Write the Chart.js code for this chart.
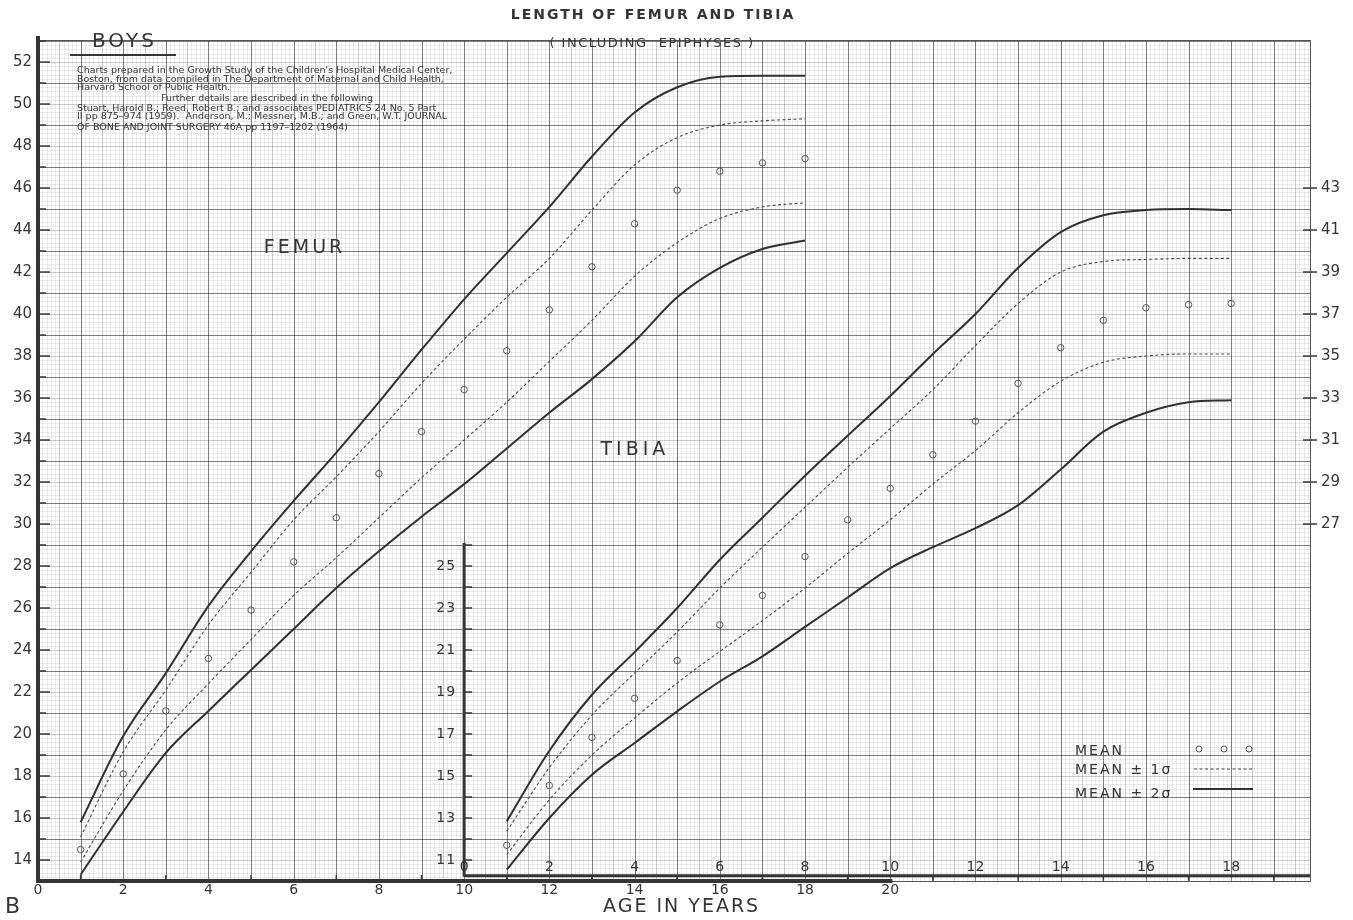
<!DOCTYPE html>
<html>
<head>
<meta charset="utf-8">
<title>Length of Femur and Tibia - Boys</title>
<script src="https://cdn.jsdelivr.net/npm/chart.js@4.4.1/dist/chart.umd.min.js"></script>
<style>
    html, body { margin: 0; padding: 0; background: #fff; }
    #wrap { width: 1353px; height: 920px; position: relative; }
</style>
</head>
<body>
<div id="wrap"><canvas id="growthChart"></canvas></div>
<script>
// Ages (years) at which the growth study values are given
const femurAges = [1, 2, 3, 4, 5, 6, 7, 8, 9, 10, 11, 12, 13, 14, 15, 16, 17, 18];
const tibiaAges = [1, 2, 3, 4, 5, 6, 7, 8, 9, 10, 11, 12, 13, 14, 15, 16, 17, 18];

// Femur length (cm)
const femurPlus2 = [15.8, 19.9, 22.9, 26.1, 28.7, 31.1, 33.4, 35.8, 38.3, 40.7, 42.9, 45.1, 47.5, 49.6, 50.8, 51.3, 51.35, 51.35];
const femurPlus1 = [15.1, 19.15, 22.1, 25.2, 27.7, 30.2, 32.25, 34.4, 36.7, 38.8, 40.8, 42.65, 44.95, 47.1, 48.4, 49.0, 49.2, 49.3];
const femurMean = [14.5, 18.1, 21.1, 23.6, 25.9, 28.2, 30.3, 32.4, 34.4, 36.4, 38.25, 40.2, 42.25, 44.3, 45.9, 46.8, 47.2, 47.4];
const femurMinus1 = [13.9, 17.3, 20.2, 22.4, 24.5, 26.6, 28.4, 30.3, 32.2, 34.0, 35.8, 37.75, 39.7, 41.8, 43.4, 44.55, 45.1, 45.3];
const femurMinus2 = [13.3, 16.3, 19.1, 21.1, 23.05, 25.0, 26.95, 28.7, 30.35, 31.9, 33.6, 35.3, 36.9, 38.7, 40.8, 42.2, 43.1, 43.5];

// Tibia length (cm)
const tibiaPlus2 = [12.84, 16.2, 18.87, 20.9, 23.0, 25.3, 27.3, 29.3, 31.2, 33.1, 35.1, 37.0, 39.2, 40.9, 41.7, 41.95, 42.0, 41.95];
const tibiaPlus1 = [12.37, 15.4, 17.9, 19.9, 21.86, 23.95, 25.9, 27.8, 29.7, 31.55, 33.4, 35.5, 37.5, 39.0, 39.5, 39.6, 39.65, 39.65];
const tibiaMean = [11.7, 14.55, 16.84, 18.7, 20.5, 22.2, 23.6, 25.45, 27.2, 28.7, 30.3, 31.9, 33.7, 35.4, 36.7, 37.3, 37.45, 37.5];
const tibiaMinus1 = [11.25, 13.87, 16.0, 17.76, 19.43, 20.93, 22.4, 23.95, 25.6, 27.2, 28.9, 30.5, 32.3, 33.8, 34.7, 35.0, 35.1, 35.1];
const tibiaMinus2 = [10.54, 13.0, 15.06, 16.57, 18.08, 19.5, 20.7, 22.1, 23.5, 24.9, 25.9, 26.8, 27.9, 29.6, 31.4, 32.3, 32.8, 32.9];

// Tick labels
const femurAgeTicks = [0, 2, 4, 6, 8, 10, 12, 14, 16, 18, 20];
const femurLengthTicks = [14, 16, 18, 20, 22, 24, 26, 28, 30, 32, 34, 36, 38, 40, 42, 44, 46, 48, 50, 52];
const tibiaAgeTicks = [0, 2, 4, 6, 8, 10, 12, 14, 16, 18];
const tibiaInsetTicks = [11, 13, 15, 17, 19, 21, 23, 25];
const tibiaRightTicks = [27, 29, 31, 33, 35, 37, 39, 41, 43];

const noteLines = [
    "Charts prepared in the Growth Study of the Children's Hospital Medical Center,",
    "Boston, from data compiled in The Department of Maternal and Child Health,",
    "Harvard School of Public Health.",
    "Further details are described in the following",
    "Stuart, Harold B.; Reed, Robert B.; and associates PEDIATRICS 24 No. 5 Part",
    "II pp 875\u2013974 (1959).  Anderson, M.; Messner, M.B.; and Green, W.T. JOURNAL",
    "OF BONE AND JOINT SURGERY 46A pp 1197\u20131202 (1964)"
];

const ink = '#353535';
const FONT = "'DejaVu Sans', 'Liberation Sans', sans-serif";
Chart.defaults.font.family = FONT;
Chart.defaults.color = ink;

function pts(ages, vals) {
    return ages.map((a, i) => ({ x: a, y: vals[i] }));
}

function curve(ages, vals, dashed, bone) {
    return {
        data: pts(ages, vals),
        xAxisID: bone === 'tibia' ? 'xt' : 'x',
        yAxisID: bone === 'tibia' ? 'yt' : 'y',
        showLine: true,
        borderColor: dashed ? '#4a4a4a' : '#303030',
        borderWidth: dashed ? 1.1 : 2,
        borderDash: dashed ? [3, 2.5] : [],
        pointRadius: 0,
        tension: 0.4,
        cubicInterpolationMode: 'monotone'
    };
}

function means(ages, vals, bone) {
    return {
        data: pts(ages, vals),
        xAxisID: bone === 'tibia' ? 'xt' : 'x',
        yAxisID: bone === 'tibia' ? 'yt' : 'y',
        showLine: false,
        pointRadius: 3.2,
        pointBorderWidth: 1,
        pointBorderColor: '#555',
        pointBackgroundColor: 'rgba(255,255,255,0)'
    };
}

function line(ctx, x1, y1, x2, y2) {
    ctx.beginPath();
    ctx.moveTo(x1, y1);
    ctx.lineTo(x2, y2);
    ctx.stroke();
}

function text(ctx, str, x, y, font, align, spacing) {
    ctx.font = font;
    ctx.textAlign = align || 'left';
    ctx.textBaseline = 'middle';
    ctx.letterSpacing = (spacing || 0) + 'px';
    ctx.fillText(str, x, y);
    ctx.letterSpacing = '0px';
}

// Graph paper: 1 yr x 2 cm squares with tenth subdivisions
const paperPlugin = {
    id: 'paper',
    beforeDatasetsDraw(chart) {
        const { ctx, chartArea: a, scales: { x, y } } = chart;
        ctx.save();
        ctx.lineWidth = 1;
        for (let i = 0; ; i++) {
            const px = Math.round(x.getPixelForValue(i / 10)) + 0.5;
            if (px > a.right) break;
            ctx.strokeStyle = i % 10 === 0 ? 'rgba(0,0,0,0.5)' : (i % 5 === 0 ? 'rgba(0,0,0,0.2)' : 'rgba(0,0,0,0.075)');
            line(ctx, px, a.top, px, a.bottom);
        }
        for (let i = 0; ; i++) {
            const py = Math.round(y.getPixelForValue(13 + i * 0.2)) + 0.5;
            if (py < a.top) break;
            ctx.strokeStyle = i % 10 === 0 ? 'rgba(0,0,0,0.5)' : (i % 5 === 0 ? 'rgba(0,0,0,0.2)' : 'rgba(0,0,0,0.075)');
            line(ctx, a.left, py, a.right, py);
        }
        ctx.strokeStyle = '#555';
        ctx.strokeRect(a.left + 0.5, a.top + 0.5, a.right - a.left, a.bottom - a.top);
        ctx.restore();
    }
};

// Axes lines, inset tibia axes, notes and legend
const decorPlugin = {
    id: 'decor',
    afterDraw(chart) {
        const { ctx, chartArea: a, scales: { x, y, xt, yt } } = chart;
        ctx.save();
        ctx.strokeStyle = ink;
        ctx.fillStyle = ink;

        // femur axes
        const L = x.getPixelForValue(0);
        ctx.lineWidth = 4;
        line(ctx, L, a.top - 4, L, a.bottom + 2);
        line(ctx, L, a.bottom, x.getPixelForValue(20.05), a.bottom);
        ctx.lineWidth = 1.5;
        for (let v = 14; v <= 53; v++) {
            const py = y.getPixelForValue(v);
            line(ctx, L, py, L + (v % 2 === 0 ? 12 : 8), py);
        }
        for (let t = 1; t < 20; t += 2) {
            const px = x.getPixelForValue(t);
            line(ctx, px, a.bottom, px, a.bottom - 6);
        }

        // tibia inset axes
        const T0 = xt.getPixelForValue(0);
        const tb = yt.getPixelForValue(10.25);
        ctx.lineWidth = 3;
        line(ctx, T0, tb, a.right, tb);
        line(ctx, T0, tb + 1, T0, yt.getPixelForValue(26.1));
        ctx.lineWidth = 1.5;
        for (let v = 11; v <= 26; v++) {
            const py = yt.getPixelForValue(v);
            line(ctx, T0, py, T0 + 8, py);
        }
        for (let t = 1; t < 20; t += 2) {
            const px = xt.getPixelForValue(t);
            line(ctx, px, tb, px, tb + 5);
        }
        tibiaInsetTicks.forEach(v => {
            text(ctx, String(v), T0 - 8, yt.getPixelForValue(v), '14px ' + FONT, 'right', 1);
        });
        tibiaAgeTicks.forEach(t => {
            text(ctx, String(t), xt.getPixelForValue(t), 867, '14px ' + FONT, 'center');
        });

        // right tibia ticks
        tibiaRightTicks.forEach(v => {
            const py = yt.getPixelForValue(v);
            line(ctx, a.right - 7, py, a.right + 7, py);
        });

        // titles and labels
        text(ctx, 'LENGTH OF FEMUR AND TIBIA', 653, 15, 'bold 14px ' + FONT, 'center', 2);
        text(ctx, '( INCLUDING  EPIPHYSES )', 652, 44, '13px ' + FONT, 'center', 1.5);
        text(ctx, 'BOYS', 92, 42, '20px ' + FONT, 'left', 3);
        ctx.lineWidth = 2;
        line(ctx, 70, 55, 176, 55);
        const noteY = [71, 79.5, 88, 98.5, 108.5, 117, 127.5];
        noteLines.forEach((s, i) => {
            ctx.font = '9.5px ' + FONT;
            ctx.textAlign = 'left';
            ctx.textBaseline = 'middle';
            ctx.fillText(s, i === 3 ? 161 : 77, noteY[i], i === 3 ? 212 : 376);
        });
        text(ctx, 'FEMUR', x.getPixelForValue(5.3), y.getPixelForValue(43.15), '19px ' + FONT, 'left', 3);
        text(ctx, 'TIBIA', xt.getPixelForValue(3.2), yt.getPixelForValue(30.5), '19px ' + FONT, 'left', 4);
        text(ctx, 'B', 5, 907, '22px ' + FONT, 'left');
        text(ctx, 'AGE IN YEARS', 603, 907, '19px ' + FONT, 'left', 2);

        // legend
        text(ctx, 'MEAN', 1075, 751, '14px ' + FONT, 'left', 2);
        text(ctx, 'MEAN \u00b1 1\u03c3', 1075, 770, '14px ' + FONT, 'left', 2);
        text(ctx, 'MEAN \u00b1 2\u03c3', 1075, 794, '14px ' + FONT, 'left', 2);
        ctx.lineWidth = 1;
        ctx.strokeStyle = '#555';
        [1199, 1224, 1249].forEach(cx => {
            ctx.beginPath();
            ctx.arc(cx, 749, 3, 0, Math.PI * 2);
            ctx.stroke();
        });
        ctx.strokeStyle = '#4a4a4a';
        ctx.lineWidth = 1.1;
        ctx.setLineDash([3, 2.5]);
        line(ctx, 1194, 769, 1255, 769);
        ctx.setLineDash([]);
        ctx.strokeStyle = '#303030';
        ctx.lineWidth = 2;
        line(ctx, 1193, 789, 1253, 789);
        ctx.restore();
    }
};

const bgPlugin = {
    id: 'bg',
    beforeDraw(chart) {
        const { ctx } = chart;
        ctx.save();
        ctx.fillStyle = '#fff';
        ctx.fillRect(0, 0, chart.width, chart.height);
        ctx.restore();
    }
};

const ctx = document.getElementById('growthChart').getContext('2d');
new Chart(ctx, {
    type: 'scatter',
    data: {
        datasets: [
            curve(femurAges, femurPlus2, false, 'femur'),
            curve(femurAges, femurPlus1, true, 'femur'),
            means(femurAges, femurMean, 'femur'),
            curve(femurAges, femurMinus1, true, 'femur'),
            curve(femurAges, femurMinus2, false, 'femur'),
            curve(tibiaAges, tibiaPlus2, false, 'tibia'),
            curve(tibiaAges, tibiaPlus1, true, 'tibia'),
            means(tibiaAges, tibiaMean, 'tibia'),
            curve(tibiaAges, tibiaMinus1, true, 'tibia'),
            curve(tibiaAges, tibiaMinus2, false, 'tibia')
        ]
    },
    options: {
        responsive: true,
        maintainAspectRatio: false,
        animation: false,
        layout: { padding: { top: 40, left: 0, right: 0, bottom: 0 } },
        plugins: {
            legend: { display: false },
            tooltip: { enabled: false }
        },
        scales: {
            x: {
                type: 'linear', axis: 'x', position: 'bottom', min: 0, max: 29.85,
                afterBuildTicks: s => { s.ticks = femurAgeTicks.map(v => ({ value: v })); },
                afterFit: s => { s.height = 39; },
                grid: { display: false, drawTicks: false },
                border: { display: false },
                ticks: { padding: 1, autoSkip: false, maxRotation: 0, font: { size: 14 } }
            },
            y: {
                type: 'linear', axis: 'y', position: 'left', min: 13, max: 53.05,
                afterBuildTicks: s => { s.ticks = femurLengthTicks.map(v => ({ value: v })); },
                afterFit: s => { s.width = 38; },
                grid: { display: false, drawTicks: false },
                border: { display: false },
                ticks: { padding: 6, autoSkip: false, font: { size: 15 } }
            },
            xt: { type: 'linear', axis: 'x', display: false, min: -10, max: 19.85 },
            yt: {
                type: 'linear', axis: 'y', position: 'right', min: 10, max: 50.05,
                afterBuildTicks: s => { s.ticks = tibiaRightTicks.map(v => ({ value: v })); },
                afterFit: s => { s.width = 43; },
                grid: { display: false, drawTicks: false },
                border: { display: false },
                ticks: { padding: 11, autoSkip: false, font: { size: 15 } }
            }
        }
    },
    plugins: [bgPlugin, paperPlugin, decorPlugin]
});
</script>
</body>
</html>
